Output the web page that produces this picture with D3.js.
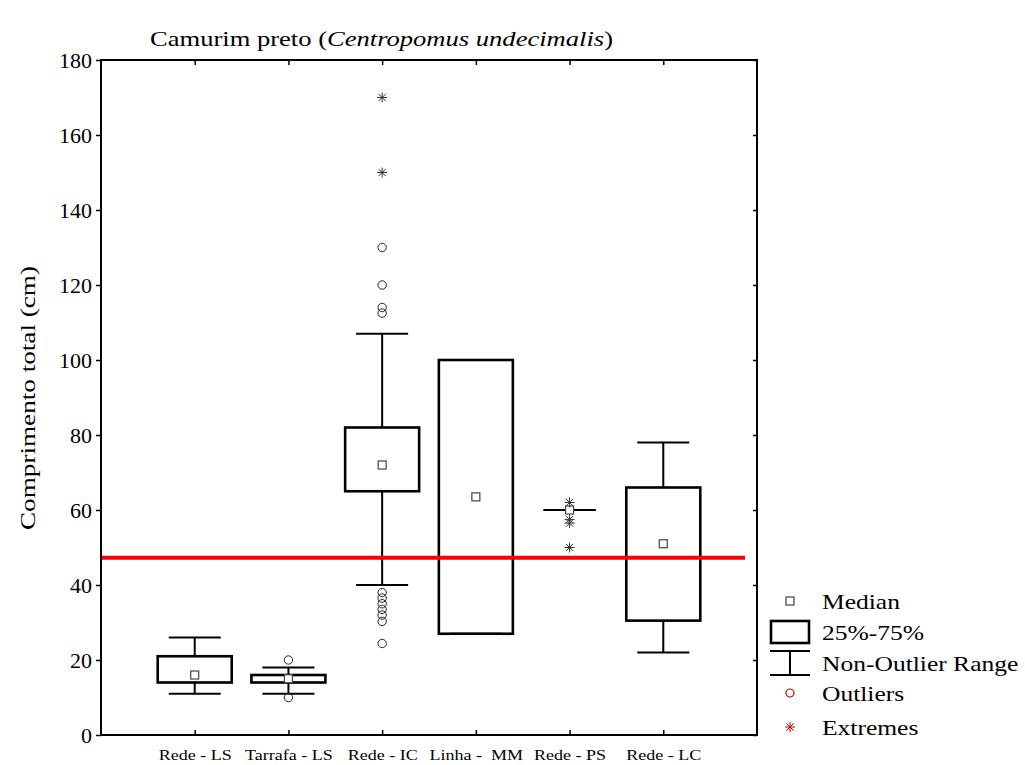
<!DOCTYPE html>
<html lang="pt">
<head>
<meta charset="UTF-8">
<title>Camurim preto</title>
<style>
  body { margin: 0; background: #fff; }
  svg text { font-family: "Liberation Serif", "DejaVu Serif", serif; fill: #000; }
  .xlab { white-space: pre; }
</style>
</head>
<body>
<svg id="chart" width="1025" height="765"></svg>
<script src="https://cdn.jsdelivr.net/npm/d3@7"></script>
<script>
// data
const categories = ["Rede - LS", "Tarrafa - LS", "Rede - IC", "Linha -  MM", "Rede - PS", "Rede - LC"];
const whiskerLow  = [11, 11, 40, 27, 60, 22];
const q1          = [14, 14, 65, 27, 60, 30.5];
const medians     = [16, 15, 72, 63.5, 60, 51];
const q3          = [21, 16, 82, 100, 60, 66];
const whiskerHigh = [26, 18, 107, 100, 60, 78];
const outliers = [[], [20, 10], [130, 120, 114, 112.5, 38, 36.5, 35, 33.5, 32, 30.3, 24.4], [], [], []];
const extremes = [[], [], [170, 150], [], [62, 57.5, 56.5, 50], []];
const yTicks = [0, 20, 40, 60, 80, 100, 120, 140, 160, 180];
const referenceValue = 47.3;
const legendLabels = ["Median", "25%-75%", "Non-Outlier Range", "Outliers", "Extremes"];

const svg = d3.select("#chart");
const L = 101, R = 757, T = 60, B = 735;

const x = d3.scalePoint().domain(categories).range([L, R]).padding(1);
const y = d3.scaleLinear().domain([0, 180]).range([B, T]);

const boxW = 74, capW = 52;

// stretch text horizontally (the original export is wider than the font)
function stretch(sel, k) {
  sel.each(function () {
    const w = this.getComputedTextLength();
    d3.select(this).attr("textLength", w * k).attr("lengthAdjust", "spacingAndGlyphs");
  });
}

// title
const title = svg.append("text")
  .attr("x", 150).attr("y", 46)
  .attr("font-size", 22)
  .attr("textLength", 463).attr("lengthAdjust", "spacingAndGlyphs");
title.append("tspan").text("Camurim preto (");
title.append("tspan").attr("font-style", "italic").text("Centropomus undecimalis");
title.append("tspan").text(")");

// y label
svg.append("text")
  .attr("transform", "translate(35,398) rotate(-90)")
  .attr("text-anchor", "middle")
  .attr("font-size", 22)
  .attr("textLength", 264).attr("lengthAdjust", "spacingAndGlyphs")
  .text("Comprimento total (cm)");

// axes
const gLeft = svg.append("g").attr("transform", `translate(${L},0)`)
  .call(d3.axisLeft(y).tickValues(yTicks).tickSize(5).tickPadding(4));
gLeft.selectAll("text").attr("font-size", 22).attr("font-family", "Liberation Serif");

svg.append("g").attr("transform", `translate(${R},0)`)
  .call(d3.axisRight(y).tickValues(yTicks).tickSize(-4).tickFormat(""));

const gBottom = svg.append("g").attr("transform", `translate(0,${B})`)
  .call(d3.axisBottom(x).tickSize(-5).tickPadding(0));
gBottom.selectAll("text")
  .attr("class", "xlab")
  .attr("font-size", 15)
  .attr("font-family", "Liberation Serif")
  .attr("dy", null).attr("y", 25)
  .call(stretch, 1.2);

svg.append("g").attr("transform", `translate(0,${T})`)
  .call(d3.axisTop(x).tickSize(-5).tickFormat(""));

svg.selectAll(".domain").remove();
svg.selectAll(".tick line").attr("stroke", "#000").attr("stroke-width", 1.5);

// frame
svg.append("rect")
  .attr("x", L).attr("y", T).attr("width", R - L).attr("height", B - T)
  .attr("fill", "none").attr("stroke", "#000").attr("stroke-width", 2);

// boxes
const plot = svg.append("g");
categories.forEach((c, i) => {
  const cx = x(c);
  const g = plot.append("g");
  // whiskers
  g.append("line").attr("x1", cx).attr("x2", cx)
    .attr("y1", y(q3[i])).attr("y2", y(whiskerHigh[i]))
    .attr("stroke", "#000").attr("stroke-width", 2);
  g.append("line").attr("x1", cx).attr("x2", cx)
    .attr("y1", y(q1[i])).attr("y2", y(whiskerLow[i]))
    .attr("stroke", "#000").attr("stroke-width", 2);
  [whiskerHigh[i], whiskerLow[i]].forEach(v => {
    g.append("line").attr("x1", cx - capW / 2).attr("x2", cx + capW / 2)
      .attr("y1", y(v)).attr("y2", y(v))
      .attr("stroke", "#000").attr("stroke-width", 2.2);
  });
  if (q3[i] > q1[i]) {
    g.append("rect")
      .attr("x", cx - boxW / 2).attr("width", boxW)
      .attr("y", y(q3[i])).attr("height", y(q1[i]) - y(q3[i]))
      .attr("fill", "none").attr("stroke", "#000").attr("stroke-width", 2.6);
  }
  g.append("rect")
    .attr("x", cx - 4).attr("y", y(medians[i]) - 4)
    .attr("width", 8).attr("height", 8)
    .attr("fill", "#fff").attr("stroke", "#444").attr("stroke-width", 1.2);
  outliers[i].forEach(v => {
    g.append("circle").attr("cx", cx).attr("cy", y(v)).attr("r", 4.2)
      .attr("fill", "none").attr("stroke", "#222").attr("stroke-width", 1);
  });
  extremes[i].forEach(v => {
    g.append("path").attr("d", asterisk(cx, y(v), 5))
      .attr("stroke", "#333").attr("stroke-width", 1).attr("fill", "none");
  });
});

function asterisk(cx, cy, r) {
  const d = r * 0.72;
  return `M${cx - r},${cy}H${cx + r}M${cx},${cy - r}V${cy + r}` +
    `M${cx - d},${cy - d}L${cx + d},${cy + d}M${cx - d},${cy + d}L${cx + d},${cy - d}`;
}

// reference line
svg.append("line")
  .attr("x1", L + 1).attr("x2", 745)
  .attr("y1", y(referenceValue)).attr("y2", y(referenceValue))
  .attr("stroke", "#ff0000").attr("stroke-width", 4);

// legend
const lg = svg.append("g");
const lx = 790, ly = [601, 632, 663, 693, 727];
lg.append("rect").attr("x", lx - 4).attr("y", ly[0] - 4).attr("width", 8).attr("height", 8)
  .attr("fill", "#fff").attr("stroke", "#444").attr("stroke-width", 1.2);
lg.append("rect").attr("x", lx - 19).attr("y", ly[1] - 11).attr("width", 38).attr("height", 22)
  .attr("fill", "none").attr("stroke", "#000").attr("stroke-width", 2.6);
lg.append("path").attr("d", `M${lx - 20},${ly[2] - 12}H${lx + 20}M${lx},${ly[2] - 12}V${ly[2] + 12}M${lx - 20},${ly[2] + 12}H${lx + 20}`)
  .attr("stroke", "#000").attr("stroke-width", 2).attr("fill", "none");
lg.append("circle").attr("cx", lx).attr("cy", ly[3]).attr("r", 4)
  .attr("fill", "none").attr("stroke", "#b00000").attr("stroke-width", 1.2);
lg.append("path").attr("d", asterisk(lx, ly[4], 5))
  .attr("stroke", "#c00000").attr("stroke-width", 1).attr("fill", "none");
lg.selectAll("text.leg").data(legendLabels).enter().append("text")
  .attr("class", "leg")
  .attr("x", 822).attr("y", (d, i) => ly[i])
  .attr("dy", "0.35em")
  .attr("font-size", 22)
  .text(d => d)
  .call(stretch, 1.16);
</script>
</body>
</html>
